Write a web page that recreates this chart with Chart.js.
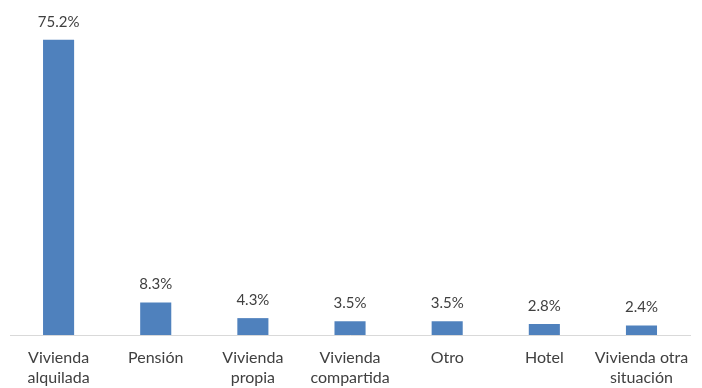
<!DOCTYPE html>
<html>
<head>
<meta charset="utf-8">
<script src="https://cdn.jsdelivr.net/npm/chart.js@4"></script>
<style>
  html, body { margin: 0; padding: 0; background: #fff; }
  #wrap { width: 702px; height: 388px; }
</style>
</head>
<body>
<div id="wrap"><canvas id="chart"></canvas></div>
<script>
const categories = [
  ['Vivienda', 'alquilada'],
  'Pensión',
  ['Vivienda', 'propia'],
  ['Vivienda', 'compartida'],
  'Otro',
  'Hotel',
  ['Vivienda otra', 'situación']
];
const percentages = [75.2, 8.3, 4.3, 3.5, 3.5, 2.8, 2.4];

// writes the value above each bar
const valueLabels = {
  id: 'valueLabels',
  afterDatasetsDraw(chart) {
    const ctx = chart.ctx;
    const meta = chart.getDatasetMeta(0);
    ctx.save();
    ctx.fillStyle = '#404040';
    ctx.font = '15px Lato, "Open Sans", sans-serif';
    ctx.textAlign = 'center';
    ctx.textBaseline = 'middle';
    meta.data.forEach((bar, i) => {
      ctx.fillText(percentages[i].toFixed(1) + '%', bar.x, bar.y - 18);
    });
    ctx.restore();
  }
};

new Chart(document.getElementById('chart'), {
  type: 'bar',
  data: {
    labels: categories,
    datasets: [{
      data: percentages,
      backgroundColor: '#4F81BD',
      categoryPercentage: 1,
      barPercentage: 0.32
    }]
  },
  options: {
    responsive: true,
    maintainAspectRatio: false,
    animation: false,
    layout: { padding: { left: 10, right: 11, top: 21, bottom: -13 } },
    plugins: {
      legend: { display: false },
      tooltip: { enabled: false }
    },
    scales: {
      x: {
        grid: { display: false, drawTicks: false },
        border: { display: true, color: '#D9D9D9', width: 1 },
        ticks: {
          color: '#404040',
          padding: 13,
          maxRotation: 0,
          autoSkip: false,
          font: { family: 'Lato, "Open Sans", sans-serif', size: 16, lineHeight: 1.25 }
        }
      },
      y: {
        display: false,
        min: 0,
        max: 80
      }
    }
  },
  plugins: [valueLabels]
});
</script>
</body>
</html>
